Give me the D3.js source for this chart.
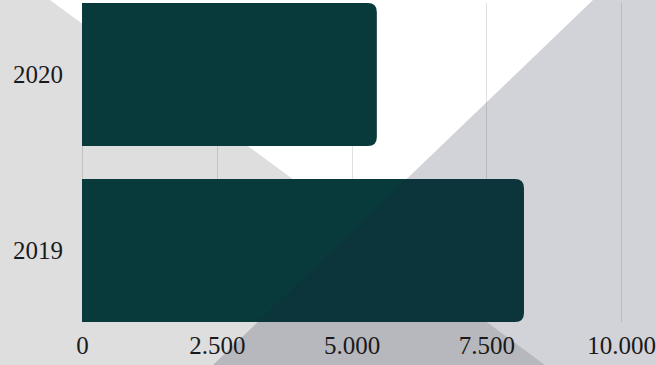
<!DOCTYPE html>
<meta charset="utf-8">
<title>Bars 2019-2020</title>
<style>
    body { margin: 0; background: #fff; }
    svg { display: block; font-family: "Liberation Serif", "DejaVu Serif", serif; }
    .grid line { stroke: #000; stroke-opacity: 0.12; stroke-width: 1; }
</style>
<body>
</body>
<script src="https://d3js.org/d3.v7.min.js"></script>
<script>
    const width = 656, height = 365;
    const margin = {top: 3, right: 35, bottom: 43, left: 82};

    const years = ["2020", "2019"];
    const values = [5470, 8200];
    const ticks = [0, 2500, 5000, 7500, 10000];

    const svg = d3.select("body").append("svg")
        .attr("width", width)
        .attr("height", height);

    // background shapes
    svg.append("polygon")
        .attr("points", [[0, 0], [50, 0], [545, 365], [0, 365]].join(" "))
        .attr("fill", "#dedede");

    const x = d3.scaleLinear()
        .domain([0, 10000])
        .range([margin.left, width - margin.right]);

    const y = d3.scaleBand()
        .domain(years)
        .range([margin.top, height - margin.bottom])
        .paddingInner(0.1875);

    svg.append("g")
        .attr("class", "grid")
        .selectAll("line")
        .data(ticks)
        .join("line")
        .attr("x1", d => Math.round(x(d)) + 0.5)
        .attr("x2", d => Math.round(x(d)) + 0.5)
        .attr("y1", margin.top)
        .attr("y2", height - margin.bottom);

    // bars with rounded right end
    const r = 9;
    svg.append("g")
        .selectAll("path")
        .data(years)
        .join("path")
        .attr("fill", "#083a3b")
        .attr("d", (d, i) => {
            const x0 = x(0), x1 = x(values[i]);
            const y0 = y(d), y1 = y(d) + y.bandwidth();
            return `M${x0},${y0}H${x1 - r}Q${x1},${y0} ${x1},${y0 + r}V${y1 - r}Q${x1},${y1} ${x1 - r},${y1}H${x0}Z`;
        });

    // translucent overlay triangle
    svg.append("polygon")
        .attr("points", [[593, 0], [656, 0], [656, 365], [213, 365]].join(" "))
        .attr("fill", "rgb(30,35,62)")
        .attr("fill-opacity", 0.2);

    const fmt = d => d3.format(",")(d).replace(/,/g, ".");

    const xAxis = svg.append("g")
        .attr("transform", `translate(0,${height - margin.bottom})`)
        .call(d3.axisBottom(x).tickValues(ticks).tickFormat(fmt).tickSize(0).tickPadding(14));
    xAxis.select(".domain").remove();
    xAxis.selectAll("text")
        .attr("fill", "#1a1a1a")
        .attr("font-size", 25)
        .attr("font-family", "Liberation Serif, serif");

    const yAxis = svg.append("g")
        .attr("transform", `translate(${margin.left},0)`)
        .call(d3.axisLeft(y).tickSize(0).tickPadding(19));
    yAxis.select(".domain").remove();
    yAxis.selectAll("text")
        .attr("fill", "#1a1a1a")
        .attr("font-size", 25)
        .attr("font-family", "Liberation Serif, serif");
</script>
